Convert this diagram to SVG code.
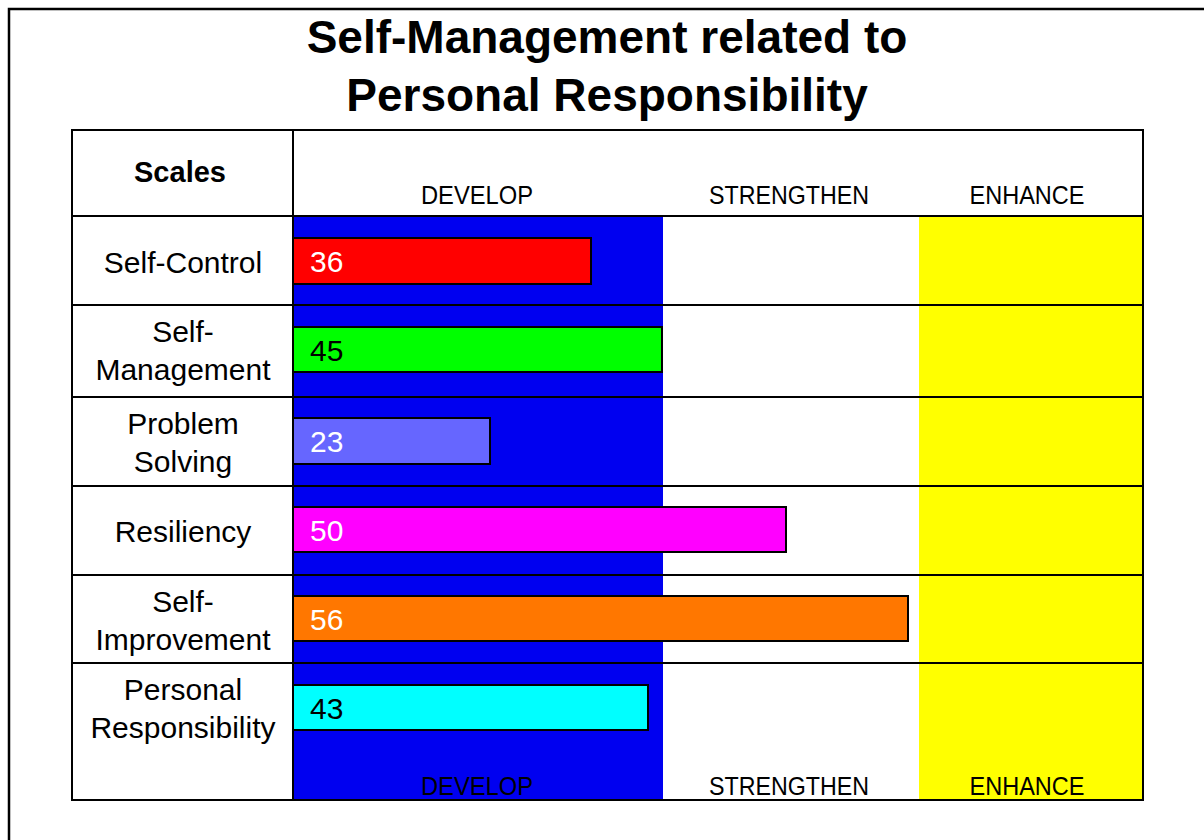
<svg xmlns="http://www.w3.org/2000/svg" width="1204" height="840" viewBox="0 0 1204 840">
<style>
.title{font-family:"Liberation Sans",Arial,sans-serif;font-weight:bold;font-size:46px;fill:#000;text-anchor:middle}
.lbl{font-family:"Liberation Sans",Arial,sans-serif;font-size:30px;fill:#000;text-anchor:middle}
.hdr{font-family:"Liberation Sans",Arial,sans-serif;font-size:26px;fill:#000;text-anchor:middle}
.num{font-family:"Liberation Sans",Arial,sans-serif;font-size:30px}
.bar{stroke:#000;stroke-width:2}
.grid{stroke:#000;stroke-width:2;fill:none}
</style>
<rect x="0" y="0" width="1204" height="840" fill="#fff"/>
<rect x="9" y="9" width="1210" height="850" fill="#fff" stroke="#000" stroke-width="2.5"/>
<g id="title">
<text class="title" x="607" y="53">Self-Management related to</text>
<text class="title" x="607" y="111">Personal Responsibility</text>
</g>
<g id="bands">
<rect x="293" y="216" width="370" height="584" fill="#0000f0"/>
<rect x="919" y="216" width="224" height="584" fill="#ffff00"/>
</g>
<g id="connectors">
<rect class="grid" x="72" y="130" width="1071" height="670"/>
<line class="grid" x1="293" y1="130" x2="293" y2="800"/>
<line class="grid" x1="72" y1="216" x2="1143" y2="216"/>
<line class="grid" x1="72" y1="305" x2="1143" y2="305"/>
<line class="grid" x1="72" y1="397" x2="1143" y2="397"/>
<line class="grid" x1="72" y1="486" x2="1143" y2="486"/>
<line class="grid" x1="72" y1="575" x2="1143" y2="575"/>
<line class="grid" x1="72" y1="663" x2="1143" y2="663"/>
</g>
<g id="header">
<text x="180" y="182" style="font-family:'Liberation Sans',Arial,sans-serif;font-weight:bold;font-size:29px;text-anchor:middle">Scales</text>
<text class="hdr" x="477" y="204" textLength="112" lengthAdjust="spacingAndGlyphs">DEVELOP</text>
<text class="hdr" x="789" y="204" textLength="160" lengthAdjust="spacingAndGlyphs">STRENGTHEN</text>
<text class="hdr" x="1027" y="204" textLength="115" lengthAdjust="spacingAndGlyphs">ENHANCE</text>
</g>
<g id="row-self-control">
<text class="lbl" x="183" y="273">Self-Control</text>
<rect class="bar" x="293" y="238" width="298" height="46" fill="#ff0000"/>
<text class="num" x="310" y="272" fill="#fff">36</text>
</g>
<g id="row-self-management">
<text class="lbl" x="183" y="342">Self-</text>
<text class="lbl" x="183" y="380">Management</text>
<rect class="bar" x="293" y="327" width="369" height="45" fill="#00ff00"/>
<text class="num" x="310" y="361" fill="#000">45</text>
</g>
<g id="row-problem-solving">
<text class="lbl" x="183" y="434">Problem</text>
<text class="lbl" x="183" y="472">Solving</text>
<rect class="bar" x="293" y="418" width="197" height="46" fill="#6666ff"/>
<text class="num" x="310" y="452" fill="#fff">23</text>
</g>
<g id="row-resiliency">
<text class="lbl" x="183" y="542">Resiliency</text>
<rect class="bar" x="293" y="507" width="493" height="45" fill="#ff00ff"/>
<text class="num" x="310" y="541" fill="#fff">50</text>
</g>
<g id="row-self-improvement">
<text class="lbl" x="183" y="612">Self-</text>
<text class="lbl" x="183" y="650">Improvement</text>
<rect class="bar" x="293" y="596" width="615" height="45" fill="#ff7700"/>
<text class="num" x="310" y="630" fill="#fff">56</text>
</g>
<g id="row-personal-responsibility">
<text class="lbl" x="183" y="700">Personal</text>
<text class="lbl" x="183" y="738">Responsibility</text>
<rect class="bar" x="293" y="685" width="355" height="45" fill="#00ffff"/>
<text class="num" x="310" y="719" fill="#000">43</text>
</g>
<g id="footer">
<text class="hdr" x="477" y="795" textLength="112" lengthAdjust="spacingAndGlyphs">DEVELOP</text>
<text class="hdr" x="789" y="795" textLength="160" lengthAdjust="spacingAndGlyphs">STRENGTHEN</text>
<text class="hdr" x="1027" y="795" textLength="115" lengthAdjust="spacingAndGlyphs">ENHANCE</text>
</g>
</svg>
